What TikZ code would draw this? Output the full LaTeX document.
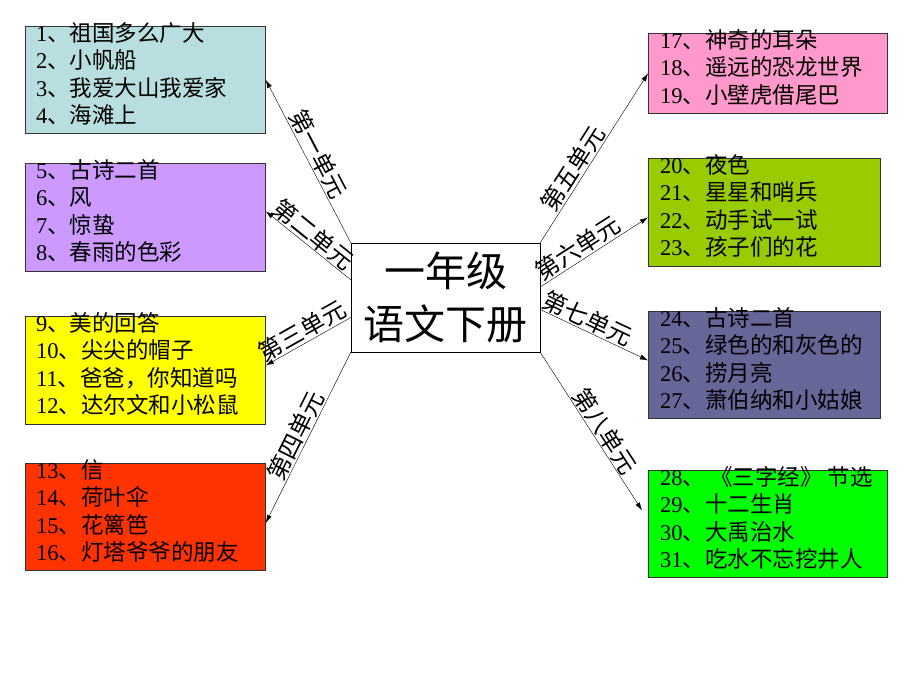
\documentclass[tikz,border=0pt]{standalone}
\usepackage{fontspec}
\setmainfont{Liberation Serif}
\newfontfamily\cjk{Noto Sans CJK SC}
\usetikzlibrary{arrows.meta}

\definecolor{unitA}{RGB}{185, 222, 224}
\definecolor{unitB}{RGB}{204, 153, 255}
\definecolor{unitC}{RGB}{255, 255, 0}
\definecolor{unitD}{RGB}{255, 51, 0}
\definecolor{unitE}{RGB}{255, 153, 204}
\definecolor{unitF}{RGB}{153, 204, 0}
\definecolor{unitG}{RGB}{102, 102, 153}
\definecolor{unitH}{RGB}{0, 255, 0}

\newcommand{\lesson}[2]{#1{\cjk 、#2}}

\begin{document}
\begin{tikzpicture}[x = 1pt, y = 1pt, font = \fontsize{22.5}{27.5}\selectfont,
	unit/.style = {draw = black!80, line width = 0.8pt, inner sep = 0pt, anchor = north west},
	lessons/.style = {align = left, inner sep = 0pt, anchor = north west},
	link/.style = {-{Latex[length = 8pt, width = 5pt]}},
	tag/.style = {font = \fontsize{24}{24}\selectfont\cjk, sloped, above, inner sep = 1pt}]

\useasboundingbox (0, 0) rectangle (920, 690);

% the units on the left
\node [unit, fill = unitA, minimum width = 240, minimum height = 107] (u1) at (25, 664) {};
\node [unit, fill = unitB, minimum width = 240, minimum height = 108] (u2) at (25, 527) {};
\node [unit, fill = unitC, minimum width = 240, minimum height = 108] (u3) at (25, 374) {};
\node [unit, fill = unitD, minimum width = 240, minimum height = 107] (u4) at (25, 227) {};

% the units on the right
\node [unit, fill = unitE, minimum width = 239, minimum height = 80] (u5) at (648, 657) {};
\node [unit, fill = unitF, minimum width = 232, minimum height = 108] (u6) at (648, 532) {};
\node [unit, fill = unitG, minimum width = 232, minimum height = 107] (u7) at (648, 379) {};
\node [unit, fill = unitH, minimum width = 239, minimum height = 107] (u8) at (648, 220) {};

\node [lessons] (t1) at ([xshift = 11, yshift = 4]u1.north west) {\lesson{1}{祖国多么广大}\\ \lesson{2}{小帆船}\\ \lesson{3}{我爱大山我爱家}\\
	\lesson{4}{海滩上}};
\node [lessons] (t2) at ([xshift = 11, yshift = 4]u2.north west) {\lesson{5}{古诗二首}\\ \lesson{6}{风}\\ \lesson{7}{惊蛰}\\ \lesson{8}{春雨的色彩}};
\node [lessons] (t3) at ([xshift = 11, yshift = 4]u3.north west) {\lesson{9}{美的回答}\\ \lesson{10}{尖尖的帽子}\\ \lesson{11}{爸爸，你知道吗}\\
	\lesson{12}{达尔文和小松鼠}};
\node [lessons] (t4) at ([xshift = 11, yshift = 4]u4.north west) {\lesson{13}{信}\\ \lesson{14}{荷叶伞}\\ \lesson{15}{花篱笆}\\ \lesson{16}{灯塔爷爷的朋友}};
\node [lessons] (t5) at ([xshift = 12, yshift = 4]u5.north west) {\lesson{17}{神奇的耳朵}\\ \lesson{18}{遥远的恐龙世界}\\ \lesson{19}{小壁虎借尾巴}};
\node [lessons] (t6) at ([xshift = 12, yshift = 4]u6.north west) {\lesson{20}{夜色}\\ \lesson{21}{星星和哨兵}\\ \lesson{22}{动手试一试}\\ \lesson{23}{孩子们的花}};
\node [lessons] (t7) at ([xshift = 12, yshift = 4]u7.north west) {\lesson{24}{古诗二首}\\ \lesson{25}{绿色的和灰色的}\\ \lesson{26}{捞月亮}\\
	\lesson{27}{萧伯纳和小姑娘}};
\node [lessons] (t8) at ([xshift = 12, yshift = 4]u8.north west) {\lesson{28}{ 《三字经》 节选}\\ \lesson{29}{十二生肖}\\ \lesson{30}{大禹治水}\\
	\lesson{31}{吃水不忘挖井人}};

% the book in the middle
\draw [gray, line width = 1.5pt] (351, 337.5) -- (540, 337.5);
\node [draw, fill = white, minimum width = 189, minimum height = 109, align = center, font = \fontsize{41}{53}\selectfont\cjk] (root)
	at (445.5, 392.5) {一年级\\语文下册};

\coordinate (end8) at ([shift = {(-6, 13.5)}]u8.west);

\draw [link] (root.north west) -- node [tag, pos = 0.51] {第一单元} (u1.east);
\draw [link] ([yshift = -37]root.north west) -- node [tag, pos = 0.53] {第二单元} ([yshift = 6]u2.east);
\draw [link] ([yshift = -20]root.west) -- node [tag, pos = 0.5] {第三单元} ([yshift = 5]u3.east);
\draw [link] (root.south west) -- node [tag, pos = 0.52] {第四单元} ([yshift = -6]u4.east);
\draw [link] (root.north east) -- node [tag, pos = 0.4] {第五单元} (u5.west);
\draw [link] ([yshift = 10.5]root.east) -- node [tag, pos = 0.41] {第六单元} ([yshift = -5]u6.west);
\draw [link] ([yshift = -12]root.east) -- node [tag, pos = 0.39] {第七单元} ([yshift = 4.5]u7.west);
\draw [link] (root.south east) -- node [tag, pos = 0.54] {第八单元} (end8);

\end{tikzpicture}
\end{document}
